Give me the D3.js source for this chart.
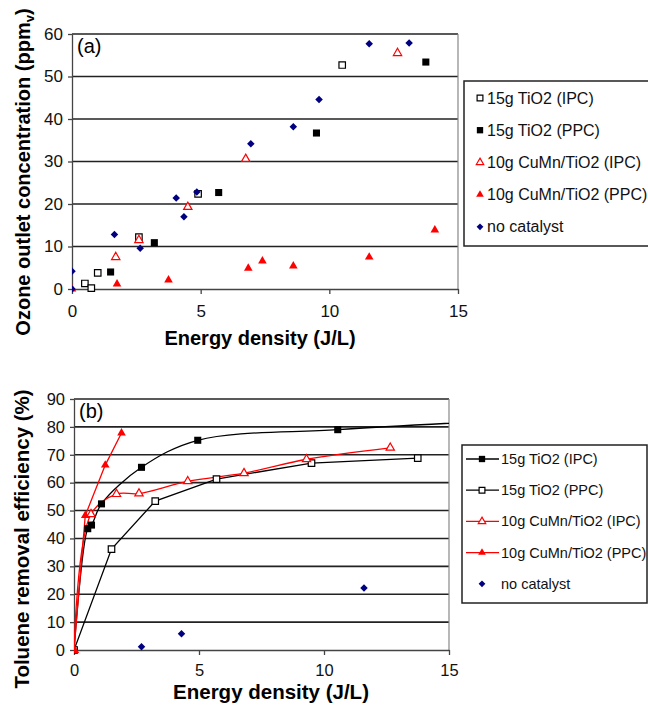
<!DOCTYPE html>
<html>
<head>
<meta charset="utf-8">
<script src="https://cdn.jsdelivr.net/npm/d3@7"></script>
<style>
  body { margin: 0; background: #fff; }
  text { font-family: 'Liberation Sans', Arial, sans-serif; }
</style>
</head>
<body>
<div id="chart"></div>
<script>
// (a) ozone outlet concentration vs energy density
var ozoneTiO2IPC = [[0.5, 1.3], [0.75, 0.2], [1.0, 3.8], [2.6, 12.2], [4.9, 22.4], [10.5, 52.7]]
var ozoneTiO2PPC = [[1.5, 4.0], [3.2, 10.9], [5.7, 22.7], [9.5, 36.7], [13.75, 53.4]]
var ozoneCuMnIPC = [[1.7, 7.5], [2.6, 11.5], [4.5, 19.3], [6.75, 30.6], [12.65, 55.5]]
var ozoneCuMnPPC = [[0, 0], [1.75, 1.2], [3.75, 2.1], [6.85, 4.9], [7.4, 6.6], [8.6, 5.4], [11.55, 7.5], [14.1, 13.9]]
var ozoneNoCat = [[0, 0], [0, 4.2], [1.65, 12.8], [2.65, 9.6], [4.05, 21.4], [4.35, 17.0], [4.85, 22.8],
  [6.95, 34.2], [8.6, 38.2], [9.6, 44.6], [11.55, 57.7], [13.1, 57.9]]

// (b) toluene removal efficiency vs energy density
var tolTiO2IPC = [[0, 0], [0.55, 43.5], [0.7, 44.8], [1.1, 52.4], [2.7, 65.5], [4.95, 75.2], [10.55, 79], [16.5, 82]]
var tolTiO2PPC = [[0, 0], [1.5, 36.2], [3.25, 53.4], [5.7, 61.3], [9.5, 67], [13.75, 68.8]]
var tolCuMnIPC = [[0, 0], [0.68, 48.7], [1.7, 55.9], [2.6, 56.1], [4.55, 60.5], [6.8, 63.4], [9.3, 68.4], [12.65, 72.5]]
var tolCuMnPPC = [[0, 0], [0.45, 48.2], [1.25, 66.3], [1.9, 77.8]]
var tolNoCat = [[2.7, 1.2], [4.3, 5.8], [11.6, 22.2]]

var xTicks = [0, 5, 10, 15]
var ozoneTicks = [0, 10, 20, 30, 40, 50, 60]
var tolTicks = [0, 10, 20, 30, 40, 50, 60, 70, 80, 90]

var labelsA = ['15g TiO2 (IPC)', '15g TiO2 (PPC)', '10g CuMn/TiO2 (IPC)', '10g CuMn/TiO2 (PPC)', 'no catalyst']
var labelsB = ['15g TiO2 (IPC)', '15g TiO2 (PPC)', '10g CuMn/TiO2 (IPC)', '10g CuMn/TiO2 (PPC)', 'no catalyst']

var diamond = d3.symbolDiamond2 || {
  draw: function(context, size) {
    var r = Math.sqrt(size) * 0.62625
    context.moveTo(0, -r)
    context.lineTo(r, 0)
    context.lineTo(0, r)
    context.lineTo(-r, 0)
    context.closePath()
  }
}
var smooth = d3.curveCatmullRom.alpha(0.5)

var svg = d3
  .select('#chart')
  .append('svg')
  .attr('width', 648)
  .attr('height', 706)

var defs = svg.append('defs')

function drawPanel(opt) {
  var x = d3.scaleLinear().domain([0, 15]).range([opt.left, opt.right])
  var y = d3.scaleLinear().domain([0, opt.yMax]).range([opt.bottom, opt.top])
  var g = svg.append('g')

  defs
    .append('clipPath')
    .attr('id', 'clip-' + opt.id)
    .append('rect')
    .attr('x', opt.left)
    .attr('y', opt.top - 6)
    .attr('width', opt.right - opt.left)
    .attr('height', opt.bottom - opt.top + 12)

  //grid lines
  g.append('g')
    .selectAll('line')
    .data(opt.yTicks.slice(1))
    .enter()
    .append('line')
    .attr('x1', opt.left)
    .attr('x2', opt.right)
    .attr('y1', function(d) { return y(d) })
    .attr('y2', function(d) { return y(d) })
    .attr('stroke', '#222')
    .attr('stroke-width', 1.6)

  //right border
  g.append('line')
    .attr('x1', opt.right)
    .attr('x2', opt.right)
    .attr('y1', opt.top)
    .attr('y2', opt.bottom)
    .attr('stroke', '#888')
    .attr('stroke-width', 1.2)

  var yAxis = g
    .append('g')
    .attr('transform', 'translate(' + opt.left + ',0)')
    .call(d3.axisLeft(y).tickValues(opt.yTicks).tickSize(4).tickPadding(5).tickSizeOuter(0))
  var xAxis = g
    .append('g')
    .attr('transform', 'translate(0,' + opt.bottom + ')')
    .call(d3.axisBottom(x).tickValues(xTicks).tickSize(5).tickPadding(opt.xPad).tickSizeOuter(0))
  ;[yAxis, xAxis].forEach(function(a) {
    a.selectAll('path, line').attr('stroke', '#444').attr('stroke-width', 1.3)
    a.selectAll('text')
      .attr('fill', '#111')
      .style('font-size', opt.tickFont)
      .style('font-family', "'Liberation Sans', Arial, sans-serif")
  })

  g.append('text')
    .attr('x', opt.left + 5)
    .attr('y', opt.top + 19)
    .style('font-size', '20px')
    .text(opt.tag)

  //series
  var plot = g.append('g').attr('clip-path', 'url(#clip-' + opt.id + ')')
  opt.series.forEach(function(s) {
    if (s.line) {
      var line = d3
        .line()
        .curve(s.curve || smooth)
        .x(function(d) { return x(d[0]) })
        .y(function(d) { return y(d[1]) })
      plot
        .append('path')
        .attr('d', line(s.data))
        .attr('fill', 'none')
        .attr('stroke', s.color)
        .attr('stroke-width', 1.3)
    }
  })
  opt.series.forEach(function(s) {
    plot
      .append('g')
      .selectAll('path')
      .data(s.data)
      .enter()
      .append('path')
      .attr('transform', function(d) {
        return 'translate(' + x(d[0]) + ',' + y(d[1]) + ')'
      })
      .attr('d', d3.symbol().type(s.type).size(s.size))
      .attr('fill', s.open ? '#fff' : s.color)
      .attr('stroke', s.color)
      .attr('stroke-width', s.open ? 1.2 : 0)
  })

  //legend
  var lg = g.append('g')
  lg.append('rect')
    .attr('x', opt.legend.x)
    .attr('y', opt.legend.y)
    .attr('width', opt.legend.w)
    .attr('height', opt.legend.h)
    .attr('fill', '#fff')
    .attr('stroke', '#222')
    .attr('stroke-width', 1.5)
  opt.series.forEach(function(s, i) {
    var cy = opt.legend.y + opt.legend.first + i * opt.legend.step
    if (s.line) {
      lg.append('line')
        .attr('x1', opt.legend.lineX[0])
        .attr('x2', opt.legend.lineX[1])
        .attr('y1', cy)
        .attr('y2', cy)
        .attr('stroke', s.color)
        .attr('stroke-width', 1.3)
    }
    lg.append('path')
      .attr('transform', 'translate(' + opt.legend.markX + ',' + cy + ')')
      .attr('d', d3.symbol().type(s.type).size(s.size * 0.8))
      .attr('fill', s.open ? '#fff' : s.color)
      .attr('stroke', s.color)
      .attr('stroke-width', s.open ? 1.2 : 0)
    lg.append('text')
      .attr('x', opt.legend.textX)
      .attr('y', cy)
      .attr('dy', '0.35em')
      .style('font-size', opt.legend.font)
      .attr('fill', '#111')
      .text(opt.labels[i])
  })

  //axis titles
  g.append('text')
    .attr('x', opt.xTitle[0])
    .attr('y', opt.xTitle[1])
    .attr('text-anchor', 'middle')
    .style('font-size', opt.titleFont)
    .style('font-weight', 'bold')
    .text('Energy density (J/L)')
  var yt = g
    .append('text')
    .attr('transform', 'translate(' + opt.yTitle[0] + ',' + opt.yTitle[1] + ') rotate(-90)')
    .attr('text-anchor', 'middle')
    .style('font-size', opt.titleFont)
    .style('font-weight', 'bold')
  yt.append('tspan').text(opt.yLabel)
  if (opt.yLabelSub) {
    yt.append('tspan').attr('dy', 4).style('font-size', '13px').text(opt.yLabelSub)
    yt.append('tspan').attr('dy', -4).text(')')
  }
}

drawPanel({
  id: 'a',
  tag: '(a)',
  left: 72,
  right: 458,
  top: 34,
  bottom: 289,
  yMax: 60,
  yTicks: ozoneTicks,
  tickFont: '17px',
  xPad: 11,
  titleFont: '20px',
  xTitle: [260, 345],
  yTitle: [30, 172],
  yLabel: 'Ozone outlet concentration (ppm',
  yLabelSub: 'v',
  labels: labelsA,
  legend: { x: 464, y: 81, w: 190, h: 165, first: 17, step: 32.2, markX: 480, textX: 487, font: '16px' },
  series: [
    { data: ozoneTiO2IPC, color: '#000', type: d3.symbolSquare, size: 42, open: true },
    { data: ozoneTiO2PPC, color: '#000', type: d3.symbolSquare, size: 50 },
    { data: ozoneCuMnIPC, color: '#f00', type: d3.symbolTriangle, size: 30, open: true },
    { data: ozoneCuMnPPC, color: '#f00', type: d3.symbolTriangle, size: 32 },
    { data: ozoneNoCat, color: '#000080', type: diamond, size: 36 }
  ]
})

drawPanel({
  id: 'b',
  tag: '(b)',
  left: 74,
  right: 449,
  top: 399,
  bottom: 650,
  yMax: 90,
  yTicks: tolTicks,
  tickFont: '16.5px',
  xPad: 9,
  titleFont: '20.5px',
  xTitle: [271, 699],
  yTitle: [29, 539],
  yLabel: 'Toluene removal efficiency (%)',
  labels: labelsB,
  legend: { x: 462, y: 445, w: 185, h: 158, first: 14, step: 31.2, markX: 482, textX: 501, lineX: [466, 499], font: '14.5px' },
  series: [
    { data: tolTiO2IPC, color: '#000', type: d3.symbolSquare, size: 50, line: true },
    { data: tolTiO2PPC, color: '#000', type: d3.symbolSquare, size: 42, open: true, line: true, curve: d3.curveLinear },
    { data: tolCuMnIPC, color: '#f00', type: d3.symbolTriangle, size: 30, open: true, line: true },
    { data: tolCuMnPPC, color: '#f00', type: d3.symbolTriangle, size: 32, line: true, curve: d3.curveLinear },
    { data: tolNoCat, color: '#000080', type: diamond, size: 36 }
  ]
})
</script>
</body>
</html>
